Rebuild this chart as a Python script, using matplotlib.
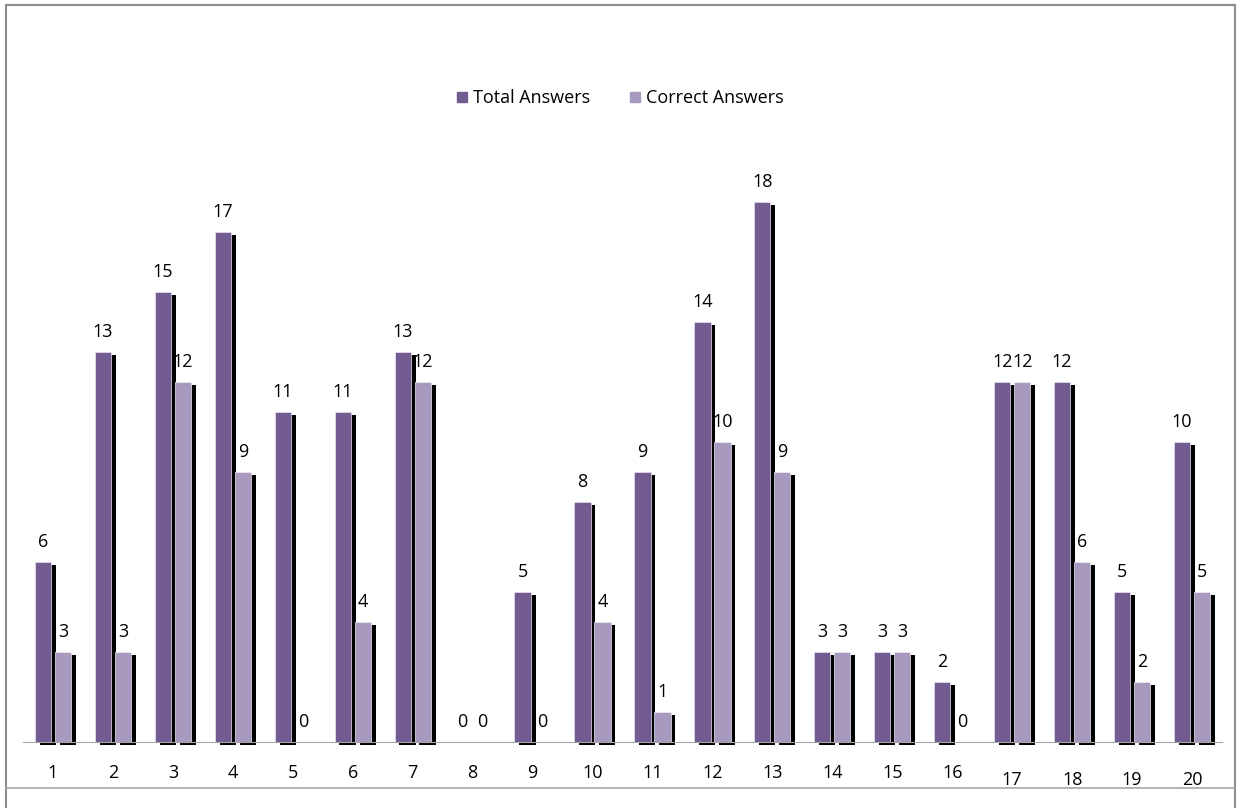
import matplotlib.pyplot as plt
import matplotlib.patheffects as pe
from matplotlib.lines import Line2D
import matplotlib.transforms as mtransforms
import numpy as np

plt.rcParams['font.family'] = ['Open Sans', 'DejaVu Sans']

questions = [str(i) for i in range(1, 21)]
total_answers = [6, 13, 15, 17, 11, 11, 13, 0, 5, 8, 9, 14, 18, 3, 3, 2, 12, 12, 5, 10]
correct_answers = [3, 3, 12, 9, 0, 4, 12, 0, 0, 4, 1, 10, 9, 3, 3, 0, 12, 6, 2, 5]

c_total = '#725B91'
c_correct = '#A89ABE'

fig = plt.figure(figsize=(12.36, 8.08), dpi=100)
ax = fig.add_axes([23 / 1236, 66 / 808, 1199 / 1236, 600 / 808])

x = np.arange(1, len(questions) + 1)
w = 0.27
shadow = [pe.SimplePatchShadow(offset=(3.5, -2.2), shadow_rgbFace='black', alpha=1.0), pe.Normal()]

b1 = ax.bar(x - 0.167, total_answers, w, color=c_total, edgecolor='#e8e4ee', linewidth=0.5,
            label='Total Answers', zorder=3, clip_on=False)
b2 = ax.bar(x + 0.167, correct_answers, w, color=c_correct, edgecolor='#f0edf4', linewidth=0.5,
            label='Correct Answers', zorder=3, clip_on=False)
for b in list(b1) + list(b2):
    b.set_path_effects(shadow)

for xs, vals in [(x - 0.167, total_answers), (x + 0.167, correct_answers)]:
    for xi, v in zip(xs, vals):
        ax.annotate(str(v), (xi, v), xytext=(0, 11), textcoords='offset points',
                    ha='center', va='baseline', fontsize=13, color='black')

ax.set_xlim(0.5, 20.5)
ax.set_ylim(0, 20)
ax.set_yticks([])
ax.set_xticks(x)
ax.set_xticklabels(questions, fontsize=13)
ax.tick_params(axis='x', length=0, pad=16)
for i, lab in enumerate(ax.get_xticklabels()):
    if i >= 16:
        lab.set_transform(lab.get_transform() + mtransforms.ScaledTranslation(0, -7 / 100, fig.dpi_scale_trans))
for s in ['top', 'left', 'right']:
    ax.spines[s].set_visible(False)
ax.spines['bottom'].set_color('#A6A6A6')
ax.spines['bottom'].set_zorder(4)

handles = [Line2D([], [], marker='s', linestyle='none', markersize=7, color=c_total),
           Line2D([], [], marker='s', linestyle='none', markersize=7, color=c_correct)]
fig.legend(handles, ['Total Answers', 'Correct Answers'], loc='center', bbox_to_anchor=(0.5, 1 - 98 / 808),
           ncol=2, frameon=False, fontsize=13, handletextpad=0.1, columnspacing=2.0, handlelength=1.0)

# outer frame
gray = '#8C8C8C'
fig.add_artist(Line2D([6 / 1236, 6 / 1236], [0, 1 - 5 / 808], color=gray, lw=1.5))
fig.add_artist(Line2D([1235 / 1236, 1235 / 1236], [0, 1 - 5 / 808], color=gray, lw=1.5))
fig.add_artist(Line2D([6 / 1236, 1235 / 1236], [1 - 5 / 808, 1 - 5 / 808], color=gray, lw=1.5))
fig.add_artist(Line2D([6 / 1236, 1235 / 1236], [1 - 788 / 808, 1 - 788 / 808], color='#A6A6A6', lw=1.2))

fig.savefig('out.png', dpi=100)
